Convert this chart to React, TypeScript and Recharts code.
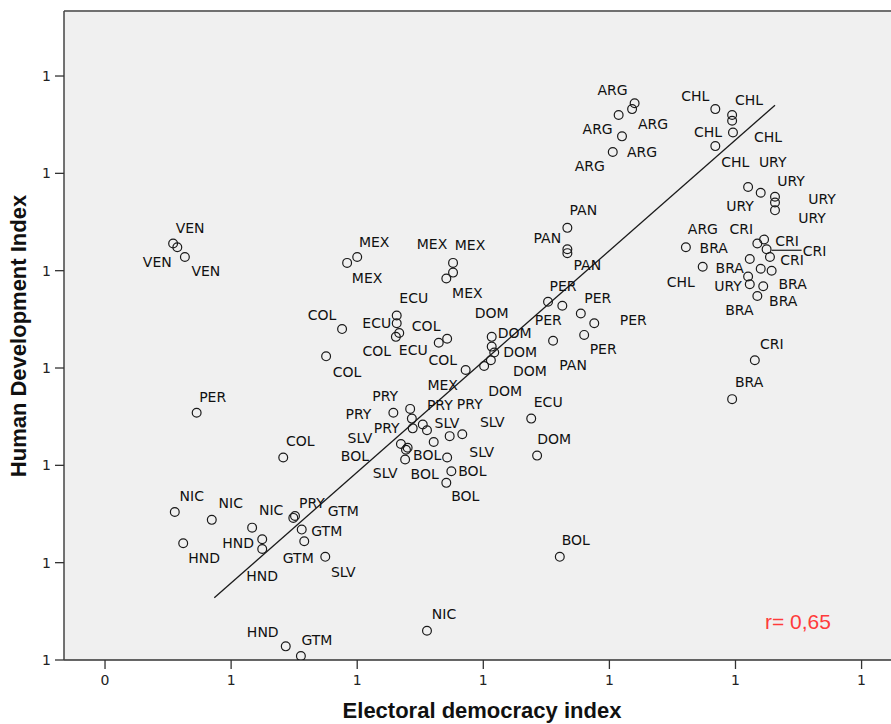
import { ScatterChart, Scatter, XAxis, YAxis, CartesianGrid, ReferenceLine } from 'recharts';

// country code, electoral democracy index, human development index
const CODES = [
  'VEN', 'VEN', 'VEN', 'PER', 'COL', 'NIC', 'NIC', 'NIC', 'HND', 'HND',
  'HND', 'HND', 'GTM', 'PRY', 'GTM', 'GTM', 'GTM', 'SLV', 'NIC', 'BOL',
  'MEX', 'MEX', 'MEX', 'MEX', 'MEX', 'MEX', 'PAN', 'PAN', 'PAN', 'PAN',
  'ECU', 'ECU', 'ECU', 'COL', 'ECU', 'COL', 'COL', 'COL', 'COL', 'DOM',
  'DOM', 'DOM', 'DOM', 'DOM', 'DOM', 'PER', 'PER', 'PER', 'PER', 'PER',
  'PRY', 'PRY', 'PRY', 'PRY', 'PRY', 'SLV', '', 'SLV', 'BOL', 'BOL',
  'SLV', 'SLV', 'SLV', 'BOL', 'BOL', 'BOL', 'ARG', 'ARG', 'ARG', 'ARG',
  'ARG', 'ARG', 'CHL', 'CHL', 'CHL', 'CHL', 'CHL', 'CHL', 'URY', 'URY',
  'URY', 'URY', 'URY', 'URY', 'CRI', 'CRI', 'CRI', 'CRI', 'BRA', 'BRA',
  'BRA', 'BRA', 'BRA', '', 'CRI', 'BRA',
];

const DEM = [
  0.081, 0.086, 0.095, 0.109, 0.212, 0.083, 0.127, 0.175, 0.187, 0.093,
  0.187, 0.215, 0.233, 0.226, 0.224, 0.234, 0.237, 0.262, 0.383, 0.541,
  0.288, 0.300, 0.414, 0.414, 0.406, 0.429, 0.550, 0.550, 0.550, 0.533,
  0.347, 0.347, 0.350, 0.346, 0.507, 0.282, 0.263, 0.407, 0.397, 0.460,
  0.460, 0.463, 0.459, 0.451, 0.514, 0.527, 0.544, 0.566, 0.582, 0.570,
  0.343, 0.363, 0.365, 0.366, 0.378, 0.383, 0.391, 0.352, 0.358, 0.360,
  0.357, 0.410, 0.425, 0.407, 0.412, 0.406, 0.630, 0.627, 0.611, 0.615,
  0.604, 0.691, 0.726, 0.746, 0.746, 0.747, 0.726, 0.711, 0.765, 0.780,
  0.797, 0.797, 0.797, 0.765, 0.776, 0.784, 0.787, 0.791, 0.767, 0.780,
  0.793, 0.783, 0.776, 0.767, 0.773, 0.746,
];

const HDI = [
  0.714, 0.712, 0.707, 0.627, 0.604, 0.576, 0.572, 0.568, 0.562, 0.560,
  0.557, 0.507, 0.502, 0.574, 0.573, 0.567, 0.561, 0.553, 0.515, 0.553,
  0.704, 0.707, 0.704, 0.699, 0.696, 0.649, 0.722, 0.711, 0.709, 0.664,
  0.677, 0.673, 0.668, 0.666, 0.624, 0.670, 0.656, 0.665, 0.663, 0.666,
  0.661, 0.658, 0.654, 0.651, 0.605, 0.684, 0.682, 0.678, 0.673, 0.667,
  0.627, 0.629, 0.624, 0.619, 0.621, 0.618, 0.612, 0.611, 0.608, 0.609,
  0.603, 0.615, 0.616, 0.604, 0.597, 0.591, 0.786, 0.783, 0.780, 0.769,
  0.761, 0.712, 0.783, 0.780, 0.777, 0.771, 0.764, 0.702, 0.743, 0.740,
  0.738, 0.735, 0.731, 0.697, 0.714, 0.716, 0.711, 0.707, 0.706, 0.701,
  0.700, 0.692, 0.687, 0.693, 0.654, 0.634,
];

const X_TICKS = [0, 0.15, 0.3, 0.45, 0.6, 0.75, 0.9];
const Y_TICKS = [0.5, 0.55, 0.6, 0.65, 0.7, 0.75, 0.8];

// fit line as drawn on the original
const FIT = { slope: 0.3793, intercept: 0.4827, from: 0.13, to: 0.797 };
const R_TEXT = 'r= 0,65';

// label placement (px offset from the marker), third value = leader line
const LABEL_POS: number[][] = [
  [17, -15], [-20, 15], [21, 14], [16, -16], [17, -17], [17, -16], [19, -17], [19, -18], [-24, 4], [21, 15],
  [0, 27], [-23, -14], [16, -16], [17, -13], [50, -7], [25, 1], [-6, 17], [18, 15], [17, -17], [16, -17],
  [20, 15], [17, -15], [-21, -19], [17, -28], [21, 15], [-23, 15], [16, -18], [-20, -11], [20, 12], [20, 24],
  [17, -17], [-20, 0], [14, 17], [-19, 14], [17, -17], [-20, -14], [21, 16], [-21, -13], [4, 17], [0, -24],
  [23, -14], [26, 0], [39, 11], [21, 25], [17, -17], [15, -16], [-14, 14], [17, -16], [39, -3], [19, 14],
  [-35, 1], [-25, -13], [28, -14], [-26, 0], [47, -20], [20, -7], [0, 0], [-41, -6], [-51, 6], [17, 26],
  [-20, 14], [32, 16], [30, -12], [-20, -3], [21, 0], [19, 13], [-22, -13], [21, 15], [-21, 14], [20, 16],
  [-23, 14], [17, -18], [-20, -13], [17, -15], [36, 16], [-25, 0], [20, 16], [-22, 15], [-8, 19], [12, -31],
  [16, -16], [47, -4], [37, 8], [-20, 9], [-16, -14], [23, 1], [48, 2, 1], [22, 3], [-36, -11], [-31, -1],
  [21, 13], [20, 15], [-18, 14], [0, 0], [17, -16], [17, -17],
];

const points = CODES.map((code, i) => ({ code, dem: DEM[i], hdi: HDI[i], idx: i }));

const LABEL_FONT = '"DejaVu Sans", Verdana, sans-serif';
const TITLE_FONT = '"Liberation Sans", Arial, sans-serif';

function PointMark(props: any) {
  const { cx, cy, payload } = props;
  if (cx == null || cy == null) return null;
  const pos = LABEL_POS[payload.idx] || [0, 0];
  const lx = cx + pos[0];
  const ly = cy + pos[1];
  return (
    <g>
      <circle cx={cx} cy={cy} r={4.4} fill="none" stroke="#1a1a1a" strokeWidth={1.2} />
      {pos[2] ? (
        <line x1={cx + 5} y1={cy + 1} x2={lx - 13} y2={cy + 1} stroke="#1a1a1a" strokeWidth={1.2} />
      ) : null}
      {payload.code ? (
        <text
          x={lx}
          y={ly + 5}
          textAnchor="middle"
          fontSize={14}
          fontFamily={LABEL_FONT}
          fill="#111"
        >
          {payload.code}
        </text>
      ) : null}
    </g>
  );
}

function XTitle() {
  return (
    <text x={482} y={718} textAnchor="middle" fontSize={22} fontWeight="bold" fontFamily={TITLE_FONT} fill="#111">
      Electoral democracy index
    </text>
  );
}

function YTitle() {
  return (
    <text
      x={26}
      y={336}
      transform="rotate(-90 26 336)"
      textAnchor="middle"
      fontSize={22}
      fontWeight="bold"
      fontFamily={TITLE_FONT}
      fill="#111"
    >
      Human Development Index
    </text>
  );
}

export default function App() {
  const fitSegment = [
    { x: FIT.from, y: FIT.intercept + FIT.slope * FIT.from },
    { x: FIT.to, y: FIT.intercept + FIT.slope * FIT.to },
  ];

  return (
    <div
      style={{
        position: 'absolute',
        left: 0,
        top: 0,
        width: 891,
        height: 724,
        overflow: 'hidden',
        background: '#fff',
      }}
    >
      <ScatterChart width={910} height={724} margin={{ top: 11, right: 10, bottom: 0, left: 0 }}>
        <CartesianGrid fill="#f0f0f0" horizontal={false} vertical={false} />
        <XAxis
          type="number"
          dataKey="dem"
          domain={[-0.0488, 0.9457]}
          allowDataOverflow
          ticks={X_TICKS}
          interval={0}
          tickFormatter={(v: number) => (v === 0 ? '0' : '1')}
          height={64}
          tickSize={9}
          tickMargin={6}
          axisLine={{ stroke: '#333', strokeWidth: 1.5 }}
          tickLine={{ stroke: '#333', strokeWidth: 1.3 }}
          tick={{ fill: '#222', fontSize: 14, fontFamily: LABEL_FONT }}
          label={{ content: XTitle }}
        />
        <YAxis
          type="number"
          dataKey="hdi"
          domain={[0.5, 0.8334]}
          allowDataOverflow
          ticks={Y_TICKS}
          interval={0}
          tickFormatter={() => '1'}
          width={64}
          tickSize={9}
          tickMargin={4}
          axisLine={{ stroke: '#444', strokeWidth: 1.5 }}
          tickLine={{ stroke: '#333', strokeWidth: 1.3 }}
          tick={{ fill: '#222', fontSize: 14, fontFamily: LABEL_FONT }}
          label={{ content: YTitle }}
        />
        <ReferenceLine y={0.8334} stroke="#707070" strokeWidth={2} />
        <ReferenceLine segment={fitSegment} stroke="#1a1a1a" strokeWidth={1.3} />
        <Scatter
          data={points}
          isAnimationActive={false}
          shape={(p: any) => <PointMark {...p} />}
        />
      </ScatterChart>
      <svg
        width={891}
        height={724}
        style={{ position: 'absolute', left: 0, top: 0, pointerEvents: 'none' }}
      >
        <text x={765} y={629} fontSize={21} fontFamily={TITLE_FONT} fill="#ff3b3b">
          {R_TEXT}
        </text>
      </svg>
    </div>
  );
}
